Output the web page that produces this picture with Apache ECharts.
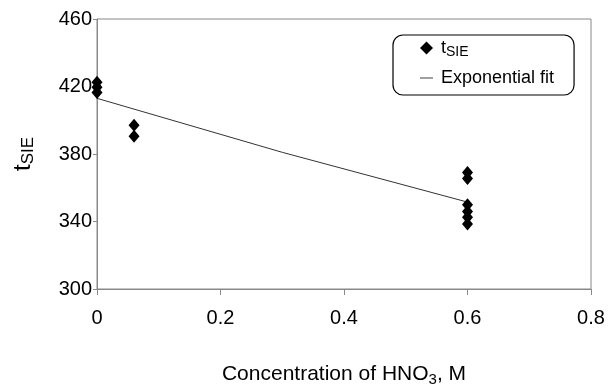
<!DOCTYPE html>
<html>
<head>
<meta charset="utf-8">
<script src="https://cdn.jsdelivr.net/npm/echarts@6/dist/echarts.min.js"></script>
<style>
  html, body { margin: 0; padding: 0; background: #fff; }
  #main { width: 610px; height: 387px; }
</style>
</head>
<body>
<div id="main"></div>
<script>
// measured points: [HNO3 concentration, tSIE]
const tsiePoints = [
  [0, 422.5], [0, 419.5], [0, 416.5],
  [0.06, 397], [0.06, 390.5],
  [0.6, 369], [0.6, 365.5], [0.6, 350], [0.6, 346], [0.6, 342.5], [0.6, 338.5]
]
// exponential fit
const fitPoints = [[0, 413], [0.3, 381], [0.6, 351.5]]
const xTicks = [0, 0.2, 0.4, 0.6, 0.8]
const yTicks = [300, 340, 380, 420, 460]

const font = 'Liberation Sans, Arial, sans-serif'
const myChart = echarts.init(document.getElementById('main'))
myChart.setOption({
  animation: false,
  grid: {
    left: 97, right: 19, top: 19, bottom: 98,
    outerBoundsMode: 'none',
    show: true, borderColor: '#888', borderWidth: 1
  },
  legend: {
    orient: 'vertical',
    left: 393, top: 35,
    padding: [4, 20, 8, 27],
    itemGap: 10,
    itemWidth: 13, itemHeight: 13,
    symbolKeepAspect: true,
    borderColor: '#000', borderWidth: 1.2, borderRadius: 10,
    data: [
      { name: 'tSIE', icon: 'diamond', itemStyle: { color: '#000' } },
      { name: 'Exponential fit', icon: 'path://M0,0L14,0L14,1L0,1Z', itemStyle: { color: '#333' } }
    ],
    formatter: name => name === 'tSIE' ? '{a|t}{s|SIE}' : name,
    textStyle: {
      fontFamily: font, fontSize: 18, color: '#000', padding: [0, 0, 0, 3],
      rich: {
        a: { fontFamily: font, fontSize: 18, color: '#000' },
        s: { fontFamily: font, fontSize: 14, color: '#000', padding: [8, 0, 0, 0] }
      }
    }
  },
  xAxis: {
    type: 'value',
    min: xTicks[0], max: xTicks[xTicks.length - 1], interval: 0.2,
    name: '{a|Concentration of HNO}{s|3}{a|, M}',
    nameLocation: 'middle', nameGap: 73,
    nameTextStyle: {
      rich: {
        a: { fontFamily: font, fontSize: 21, color: '#000' },
        s: { fontFamily: font, fontSize: 15, color: '#000', padding: [10, 0, 0, 0] }
      }
    },
    axisLine: { lineStyle: { color: '#888' } },
    axisTick: { inside: false, length: 6, lineStyle: { color: '#888' } },
    axisLabel: { fontFamily: font, fontSize: 20, color: '#000', margin: 19,
      formatter: v => String(Math.round(v * 10) / 10) },
    splitLine: { show: false }
  },
  yAxis: {
    type: 'value',
    min: yTicks[0], max: yTicks[yTicks.length - 1], interval: 40,
    name: '{a|t}{s|SIE}',
    nameLocation: 'middle', nameGap: 60, nameRotate: 90,
    nameTextStyle: {
      rich: {
        a: { fontFamily: font, fontSize: 24, color: '#000' },
        s: { fontFamily: font, fontSize: 17, color: '#000', padding: [11, 0, 0, 0] }
      }
    },
    axisLine: { show: true, lineStyle: { color: '#888' } },
    axisTick: { show: true, inside: false, length: 4, lineStyle: { color: '#888' } },
    axisLabel: { fontFamily: font, fontSize: 20, color: '#000', margin: 5 },
    splitLine: { show: false }
  },
  series: [
    {
      name: 'tSIE',
      type: 'scatter',
      symbol: 'diamond',
      symbolSize: [11, 13],
      itemStyle: { color: '#000', opacity: 1 },
      data: tsiePoints,
      z: 3
    },
    {
      name: 'Exponential fit',
      type: 'line',
      symbol: 'none',
      lineStyle: { color: '#333', width: 1 },
      data: fitPoints,
      z: 2
    }
  ]
})
</script>
</body>
</html>
